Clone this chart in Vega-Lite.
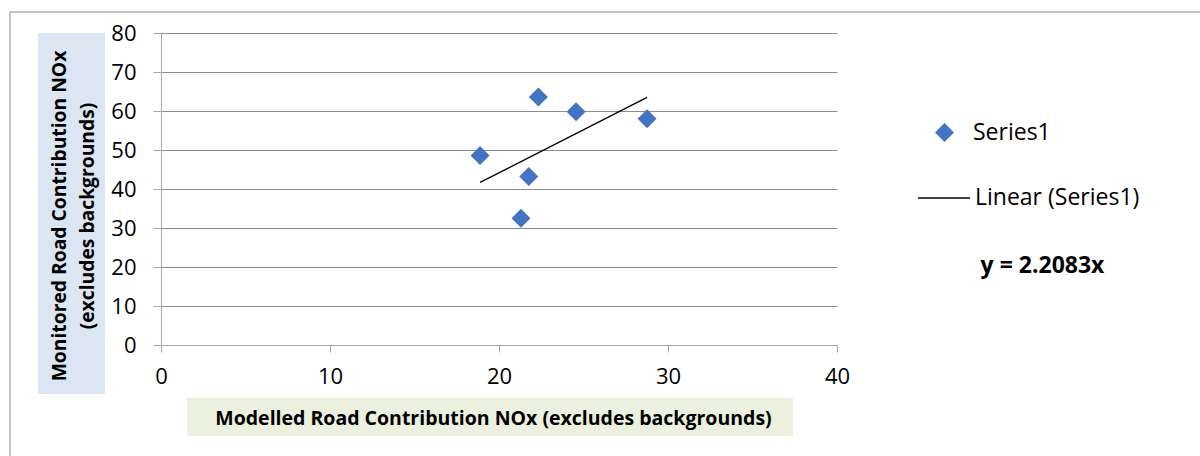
{
  "$schema": "https://vega.github.io/schema/vega-lite/v6.json",
  "background": "white",
  "width": 676,
  "height": 312,
  "autosize": "none",
  "padding": {"left": 161, "top": 33, "right": 363, "bottom": 111},
  "datasets": {
    "points": [
      {"modelled": 18.88, "monitored": 48.6},
      {"modelled": 21.3, "monitored": 32.5},
      {"modelled": 21.76, "monitored": 43.2},
      {"modelled": 22.33, "monitored": 63.6},
      {"modelled": 24.56, "monitored": 59.8},
      {"modelled": 28.76, "monitored": 58.0}
    ],
    "trend": [
      {"modelled": 18.88, "monitored": 41.69},
      {"modelled": 28.76, "monitored": 63.51}
    ]
  },
  "resolve": {"axis": {"x": "independent", "y": "independent"}},
  "layer": [
    {
      "data": {"name": "points"},
      "mark": {"type": "point", "shape": "diamond", "filled": true, "size": 360, "opacity": 1, "strokeWidth": 0},
      "encoding": {
        "x": {
          "field": "modelled",
          "type": "quantitative",
          "scale": {"domain": [0, 40], "nice": false},
          "axis": {
            "orient": "bottom",
            "values": [0, 10, 20, 30, 40],
            "tickCount": 10,
            "grid": false,
            "zindex": 1,
            "title": "Modelled Road Contribution NOx (excludes backgrounds)",
            "titleFont": "Open Sans",
            "titleFontSize": 19.5,
            "titleFontWeight": "bold",
            "titleColor": "black",
            "titleX": 332,
            "titleY": 73,
            "titleBaseline": "middle",
            "labelFont": "Open Sans",
            "labelFontSize": 22,
            "labelColor": "black",
            "labelPadding": 14,
            "labelFlush": false,
            "domainColor": "#a6a6a6",
            "tickColor": "#a6a6a6",
            "tickSize": 7
          }
        },
        "y": {
          "field": "monitored",
          "type": "quantitative",
          "scale": {"domain": [0, 80], "nice": false},
          "axis": {
            "orient": "left",
            "values": [0, 10, 20, 30, 40, 50, 60, 70, 80],
            "tickCount": 12,
            "labelOverlap": false,
            "grid": true,
            "gridColor": "#8c8c8c",
            "title": "",
            "labelFont": "Open Sans",
            "labelFontSize": 22,
            "labelColor": "black",
            "labelPadding": 17,
            "labelFlush": false,
            "domainColor": "#a6a6a6",
            "tickColor": "#a6a6a6",
            "tickSize": 8
          }
        },
        "color": {
          "datum": "Series1",
          "scale": {"range": ["#4472c4"]},
          "legend": {
            "orient": "none",
            "legendX": 772,
            "legendY": 88,
            "title": null,
            "padding": 0,
            "symbolType": "diamond",
            "symbolSize": 360,
            "symbolStrokeWidth": 0,
            "labelFont": "Open Sans",
            "labelFontSize": 23,
            "labelColor": "black",
            "labelOffset": 17,
            "labelLimit": 300
          }
        }
      }
    },
    {
      "data": {"values": [{}]},
      "mark": {"type": "rect", "fill": "transparent", "stroke": "#8c8c8c", "strokeWidth": 1},
      "encoding": {
        "x": {"datum": -8.935, "type": "quantitative", "axis": null},
        "x2": {"datum": 62.1},
        "y": {"datum": 85.38, "type": "quantitative", "axis": null},
        "y2": {"datum": -32}
      }
    },
    {
      "data": {"values": [{}]},
      "mark": {"type": "rect", "fill": "#ebf1de"},
      "encoding": {
        "x": {"datum": 1.54, "type": "quantitative", "axis": null},
        "x2": {"datum": 37.4},
        "y": {"datum": -13.59, "type": "quantitative", "axis": null},
        "y2": {"datum": -23.33}
      }
    },
    {
      "data": {"values": [{}]},
      "mark": {"type": "rect", "fill": "#dce6f2"},
      "encoding": {
        "x": {"datum": -7.28, "type": "quantitative", "axis": null},
        "x2": {"datum": -3.31},
        "y": {"datum": 80, "type": "quantitative", "axis": null},
        "y2": {"datum": -12.56}
      }
    },
    {
      "data": {"values": [{}]},
      "mark": {"type": "text", "font": "Open Sans", "fontSize": 19.3, "fontWeight": "bold", "angle": 270, "align": "center", "baseline": "middle", "lineHeight": 28, "color": "black"},
      "encoding": {
        "x": {"datum": -5.98, "type": "quantitative", "axis": null},
        "y": {"datum": 33.08, "type": "quantitative", "axis": null},
        "text": {"value": ["Monitored Road Contribution NOx", "(excludes backgrounds)"]}
      }
    },
    {
      "data": {"name": "trend"},
      "mark": {"type": "line", "strokeWidth": 1.3},
      "encoding": {
        "x": {"field": "modelled", "type": "quantitative", "axis": null},
        "y": {"field": "monitored", "type": "quantitative", "axis": null},
        "stroke": {
          "datum": "Linear (Series1)",
          "scale": {"range": ["black"]},
          "legend": {
            "orient": "none",
            "legendX": 756,
            "legendY": 138,
            "title": null,
            "padding": 0,
            "symbolType": "stroke",
            "symbolSize": 2704,
            "symbolStrokeWidth": 1.3,
            "labelFont": "Open Sans",
            "labelFontSize": 23,
            "labelColor": "black",
            "labelOffset": 4,
            "labelLimit": 300
          }
        }
      }
    },
    {
      "data": {"values": [{}]},
      "mark": {"type": "text", "font": "Open Sans", "fontSize": 23, "fontWeight": "bold", "align": "center", "baseline": "alphabetic", "color": "black"},
      "encoding": {
        "x": {"datum": 52.16, "type": "quantitative", "axis": null},
        "y": {"datum": 18.46, "type": "quantitative", "axis": null},
        "text": {"value": "y = 2.2083x"}
      }
    }
  ],
  "config": {
    "view": {"stroke": null},
    "font": "Open Sans"
  }
}
